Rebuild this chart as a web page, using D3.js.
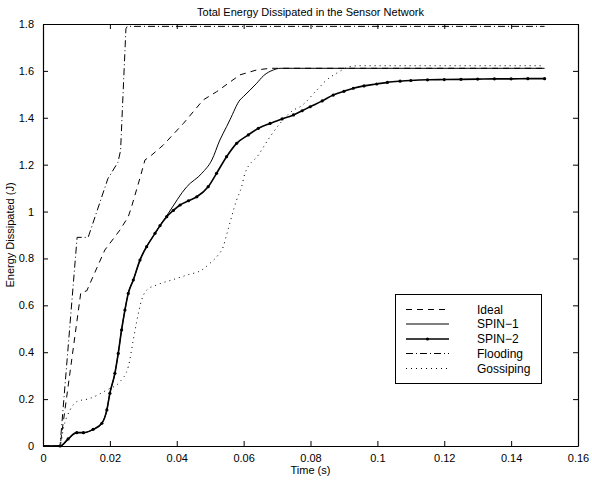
<!DOCTYPE html>
<html><head><meta charset="utf-8">
<script src="https://cdn.jsdelivr.net/npm/d3@7"></script>
<style>body{margin:0;background:#fff}svg{display:block}text{font-family:"Liberation Sans",Arial,Helvetica,sans-serif;}</style>
</head><body>
<script>
// ---- data (time in s, energy in J) ----
const xTicks = [0, 0.02, 0.04, 0.06, 0.08, 0.1, 0.12, 0.14, 0.16];
const yTicks = [0, 0.2, 0.4, 0.6, 0.8, 1, 1.2, 1.4, 1.6, 1.8];
const seriesNames = ["Ideal", "SPIN\u22121", "SPIN\u22122", "Flooding", "Gossiping"];

const idealT = [0, 0.0051, 0.0113, 0.0131, 0.0141, 0.0185, 0.0230, 0.0255, 0.0265, 0.0290, 0.0305, 0.0325, 0.0360, 0.0420, 0.0479, 0.0519, 0.0589, 0.0639, 0.0679, 0.15];
const idealE = [0, 0, 0.654, 0.662, 0.695, 0.836, 0.921, 0.978, 1.021, 1.143, 1.22, 1.241, 1.284, 1.376, 1.476, 1.511, 1.583, 1.604, 1.611, 1.611];

const spin1T = [0, 0.0051, 0.0101, 0.0121, 0.0150, 0.0176, 0.0191, 0.0200, 0.0215, 0.0225, 0.0235, 0.0245, 0.0255, 0.0270, 0.0290, 0.0335, 0.0375, 0.0430, 0.0475, 0.0505, 0.0529, 0.0549, 0.0559, 0.0589, 0.0599, 0.0639, 0.0660, 0.0689, 0.0709, 0.15];
const spin1E = [0, 0, 0.057, 0.057, 0.071, 0.097, 0.154, 0.225, 0.310, 0.395, 0.495, 0.580, 0.651, 0.708, 0.793, 0.907, 0.993, 1.106, 1.163, 1.220, 1.305, 1.362, 1.391, 1.476, 1.490, 1.547, 1.580, 1.604, 1.611, 1.611];

const spin2T = [0, 0.0025, 0.0051, 0.0075, 0.0101, 0.0121, 0.0150, 0.0176, 0.0191, 0.0200, 0.0215, 0.0225, 0.0235, 0.0245, 0.0255, 0.0270, 0.0290, 0.0310, 0.0335, 0.0350, 0.0370, 0.0390, 0.0410, 0.0435, 0.0460, 0.0494, 0.0519, 0.0549, 0.0579, 0.0614, 0.0644, 0.0679, 0.0715, 0.0749, 0.0775, 0.0799, 0.0835, 0.0868, 0.0900, 0.0928, 0.0960, 0.0998, 0.1030, 0.1068, 0.1100, 0.1150, 0.1200, 0.1250, 0.1300, 0.1350, 0.1400, 0.1450, 0.15];
const spin2E = [0, 0, 0, 0.030, 0.057, 0.057, 0.071, 0.097, 0.154, 0.225, 0.310, 0.395, 0.495, 0.580, 0.651, 0.708, 0.793, 0.850, 0.907, 0.940, 0.978, 1.005, 1.028, 1.046, 1.063, 1.106, 1.163, 1.234, 1.291, 1.327, 1.355, 1.376, 1.395, 1.412, 1.430, 1.447, 1.472, 1.497, 1.513, 1.526, 1.536, 1.544, 1.551, 1.556, 1.559, 1.562, 1.563, 1.564, 1.565, 1.566, 1.566, 1.567, 1.567];

const floodT = [0, 0.0051, 0.0102, 0.0135, 0.0194, 0.0224, 0.0232, 0.0248, 0.0252, 0.15];
const floodE = [0, 0, 0.89, 0.89, 1.14, 1.21, 1.26, 1.78, 1.79, 1.79];

const gossT = [0, 0.0051, 0.0061, 0.0081, 0.0101, 0.0141, 0.0191, 0.0230, 0.0255, 0.0270, 0.0280, 0.0295, 0.0310, 0.0340, 0.0385, 0.0430, 0.0475, 0.0499, 0.0524, 0.0539, 0.0549, 0.0579, 0.0594, 0.0604, 0.0644, 0.0679, 0.0709, 0.0749, 0.0769, 0.0819, 0.0848, 0.0878, 0.0918, 0.0948, 0.15];
const gossE = [0, 0, 0.075, 0.154, 0.189, 0.203, 0.239, 0.274, 0.338, 0.452, 0.529, 0.623, 0.665, 0.687, 0.708, 0.729, 0.751, 0.779, 0.815, 0.850, 0.900, 1.049, 1.106, 1.163, 1.241, 1.319, 1.376, 1.433, 1.447, 1.518, 1.561, 1.590, 1.618, 1.622, 1.622];

// ---- layout ----
const W = 592, H = 482;
const L = 43, R = 578, T = 24, B = 446;
const svg = d3.select("body").append("svg").attr("width", W).attr("height", H);

const x = d3.scaleLinear().domain([0, 0.16]).range([L, R]);
const y = d3.scaleLinear().domain([0, 1.8]).range([B, T]);

const fmt = v => v === 0 ? "0" : String(+v.toFixed(2));

// axes (MATLAB style: box, ticks inside)
const tickLen = 5;
svg.append("g").attr("transform", `translate(0,${B})`)
  .call(d3.axisBottom(x).tickValues(xTicks).tickFormat(fmt).tickSizeInner(-tickLen).tickSizeOuter(0).tickPadding(8))
  .call(g => g.select(".domain").attr("stroke-width", 1.2));
svg.append("g").attr("transform", `translate(0,${T})`)
  .call(d3.axisTop(x).tickValues(xTicks).tickFormat("").tickSizeInner(-tickLen).tickSizeOuter(0))
  .call(g => g.select(".domain").attr("stroke-width", 1.2));
svg.append("g").attr("transform", `translate(${L},0)`)
  .call(d3.axisLeft(y).tickValues(yTicks).tickFormat(fmt).tickSizeInner(-tickLen).tickSizeOuter(0).tickPadding(9))
  .call(g => g.select(".domain").attr("stroke-width", 1.2));
svg.append("g").attr("transform", `translate(${R},0)`)
  .call(d3.axisRight(y).tickValues(yTicks).tickFormat("").tickSizeInner(-tickLen).tickSizeOuter(0))
  .call(g => g.select(".domain").attr("stroke-width", 1.2));
svg.selectAll(".tick text").attr("font-size", 11).attr("fill", "#000")
  .attr("font-family", "'Liberation Sans', Arial, sans-serif");
svg.selectAll(".tick line").attr("stroke", "#000");

// titles
svg.append("text").attr("x", (L + R) / 2).attr("y", 16).attr("text-anchor", "middle")
  .attr("font-size", 11).text("Total Energy Dissipated in the Sensor Network");
svg.append("text").attr("x", (L + R) / 2).attr("y", 474).attr("text-anchor", "middle")
  .attr("font-size", 11).text("Time (s)");
svg.append("text").attr("transform", `translate(14,${(T + B) / 2}) rotate(-90)`).attr("text-anchor", "middle")
  .attr("font-size", 11).text("Energy Dissipated (J)");

// series
const zip = (ts, es) => ts.map((t, i) => [t, es[i]]);
const lineLin = d3.line().x(d => x(d[0])).y(d => y(d[1]));
const lineSmooth = d3.line().x(d => x(d[0])).y(d => y(d[1])).curve(d3.curveMonotoneX);

const styles = [
  { data: zip(idealT, idealE), gen: lineLin, dash: "6,5", w: 1 },
  { data: zip(spin1T, spin1E), gen: lineSmooth, dash: null, w: 1 },
  { data: zip(spin2T, spin2E), gen: lineSmooth, dash: null, w: 1.6, marker: true },
  { data: zip(floodT, floodE), gen: lineLin, dash: "7,3,1,3", w: 1 },
  { data: zip(gossT, gossE), gen: lineSmooth, dash: "1,4", w: 1 }
];
const plot = svg.append("g");
styles.forEach(s => {
  plot.append("path").attr("d", s.gen(s.data)).attr("fill", "none").attr("stroke", "#000")
    .attr("stroke-width", s.w).attr("stroke-dasharray", s.dash);
  if (s.marker) {
    plot.selectAll(null).data(s.data.filter(d => d[0] > 0.004)).enter().append("circle")
      .attr("cx", d => x(d[0])).attr("cy", d => y(d[1])).attr("r", 1.6).attr("fill", "#000");
  }
});

// legend
const lg = svg.append("g");
lg.append("rect").attr("x", 395.5).attr("y", 294.5).attr("width", 146).attr("height", 89)
  .attr("fill", "#fff").attr("stroke", "#000").attr("stroke-width", 1);
const rowY = [309.5, 324, 339, 353.5, 368.5];
styles.forEach((s, i) => {
  lg.append("line").attr("x1", 406).attr("x2", 449).attr("y1", rowY[i]).attr("y2", rowY[i])
    .attr("stroke", "#000").attr("stroke-width", s.w).attr("stroke-dasharray", s.dash);
  if (s.marker) lg.append("circle").attr("cx", 427.5).attr("cy", rowY[i]).attr("r", 1.6).attr("fill", "#000");
  lg.append("text").attr("x", 477).attr("y", rowY[i]).attr("dy", "0.36em").attr("font-size", 12)
    .text(seriesNames[i]);
});
</script>
</body></html>
